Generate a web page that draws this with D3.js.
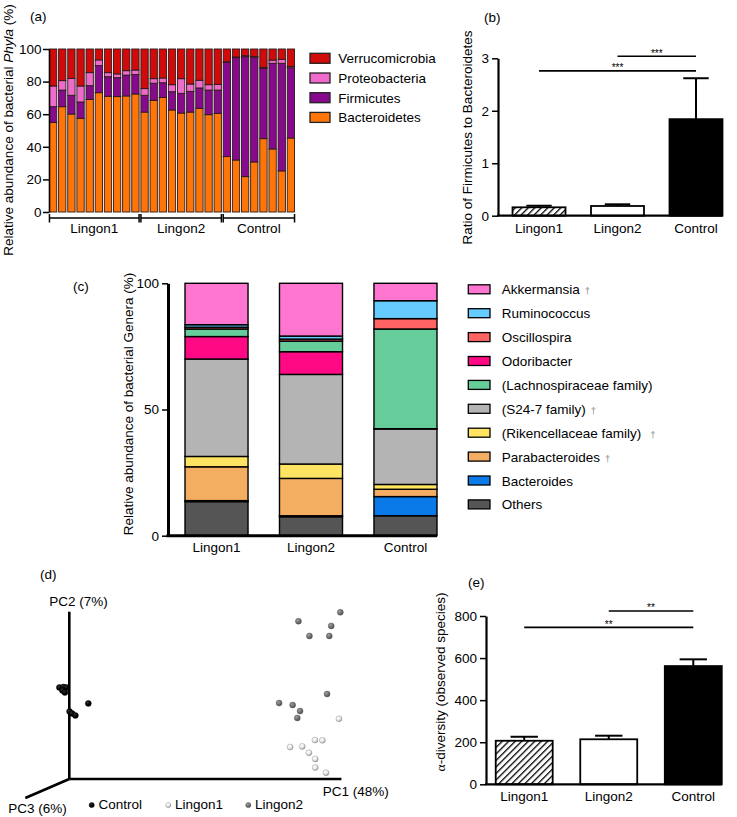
<!DOCTYPE html>
<html><head><meta charset="utf-8">
<script src="https://cdn.jsdelivr.net/npm/d3@7"></script>
<style>
body{margin:0;background:#fff;}
svg{display:block;font-family:"Liberation Sans",Arial,Helvetica,sans-serif;}
</style></head><body>
<svg id="chart" width="737" height="817"></svg>
<script>
// ---------------- DATA ----------------
// (a) phyla per sample
const phylaGroups = ["Lingon1", "Lingon2", "Control"];
const phylaGroupSizes = [10, 9, 8];
const phylaNames = ["Bacteroidetes", "Firmicutes", "Proteobacteria", "Verrucomicrobia"];
const phylaLegend = ["Verrucomicrobia", "Proteobacteria", "Firmicutes", "Bacteroidetes"];
const bacteroidetes = [55, 64.6, 60.1, 57.5, 69.1, 73.2, 71, 70.8, 71.2, 72.4,
  61.3, 68.5, 70.3, 62.6, 60.7, 61.3, 63.6, 59.7, 60.5,
  34, 31.9, 21.7, 30.7, 45, 38.7, 25.2, 45.4];
const firmicutes = [9.6, 10.2, 11.5, 10, 8.4, 16.6, 12, 11.6, 12.8, 11.9,
  10.3, 10.5, 9, 11.2, 12.1, 12.7, 12.5, 15.1, 14.3,
  57.8, 62.8, 73.6, 64.2, 43, 52.5, 66, 43.1];
const proteobacteria = [12.7, 5.8, 10.4, 9.8, 8, 3.5, 2.5, 2.3, 2.7, 2.8,
  4.1, 2.8, 2.9, 4.3, 9, 4.5, 4.7, 3.3, 3.5,
  0.4, 0.4, 0.6, 0.4, 0.7, 2, 2.5, 0.8];
const verrucomicrobia = [22.7, 19.4, 18, 22.7, 14.5, 6.7, 14.5, 15.3, 13.3, 12.9,
  24.3, 18.2, 17.8, 21.9, 18.2, 21.5, 19.2, 21.9, 21.7,
  7.8, 4.9, 4.1, 4.7, 11.3, 6.8, 6.3, 10.7];
const phylaTicks = [0, 20, 40, 60, 80, 100];

// (b) ratio Firmicutes / Bacteroidetes
const groups = ["Lingon1", "Lingon2", "Control"];
const ratioMean = [0.16, 0.185, 1.84];
const ratioErr = [0.03, 0.032, 0.78];
const ratioTicks = [0, 1, 2, 3];
const ratioSig = [{a: "Lingon2", b: "Control", y: 3.04, label: "***"},
                  {a: "Lingon1", b: "Control", y: 2.76, label: "***"}];

// (c) genera (stack order bottom -> top)
const genera = ["Others", "Bacteroides", "Parabacteroides", "(Rikencellaceae family)", "(S24-7 family)",
  "Odoribacter", "(Lachnospiraceae family)", "Oscillospira", "Ruminococcus", "Akkermansia"];
const generaLingon1 = [13.5, 0.4, 13.4, 4.1, 38.6, 8.9, 3.0, 0.7, 1.0, 16.4];
const generaLingon2 = [7.5, 0.4, 14.8, 5.7, 35.5, 9.0, 4.2, 0.8, 1.2, 20.9];
const generaControl = [7.9, 7.6, 2.9, 1.9, 22.0, 0.1, 39.5, 4.1, 7.1, 6.9];
const generaLegend = ["Akkermansia", "Ruminococcus", "Oscillospira", "Odoribacter", "(Lachnospiraceae family)",
  "(S24-7 family)", "(Rikencellaceae family)", "Parabacteroides", "Bacteroides", "Others"];
const generaDagger = ["Akkermansia", "(S24-7 family)", "(Rikencellaceae family)", "Parabacteroides"];
const generaTicks = [0, 50, 100];

// (d) PCoA (projected coordinates, arbitrary units)
const pcControl = [[-3.6, 54.7], [-2.1, 55.0], [-1.0, 54.7], [-2.5, 52.9], [-1.6, 51.7],
  [0.1, 40.3], [1.0, 39.2], [2.2, 38.0], [6.9, 45.2]];
const pcLingon1 = [[97.8, 36.0], [89.1, 23.3], [91.8, 23.1], [80.1, 19.1], [84.5, 19.5],
  [86.9, 15.7], [89.2, 12.0], [89.2, 6.8], [93.1, 3.8]];
const pcLingon2 = [[98.3, 99.6], [83.1, 94.3], [95.0, 91.5], [87.1, 85.5], [94.3, 85.5],
  [93.5, 50.8], [76.1, 45.4], [81.0, 44.2], [83.7, 40.6], [82.7, 36.5]];
const pcAxisLabels = ["PC1 (48%)", "PC2 (7%)", "PC3 (6%)"];

// (e) alpha diversity
const alphaMean = [207, 214, 562];
const alphaErr = [19, 17, 32];
const alphaTicks = [0, 200, 400, 600, 800];
const alphaSig = [{a: "Lingon2", b: "Control", y: 824, label: "**"},
                  {a: "Lingon1", b: "Control", y: 746, label: "**"}];

// ---------------- STYLE ----------------
const FS = 13.5;
const phylaColors = {Verrucomicrobia: "#d10a0a", Proteobacteria: "#f06acb", Firmicutes: "#880a8c", Bacteroidetes: "#ff7508"};
const generaColors = {
  "Akkermansia": "#ff76d1", "Ruminococcus": "#66cbff", "Oscillospira": "#ff6464", "Odoribacter": "#ff0a84",
  "(Lachnospiraceae family)": "#66cc99", "(S24-7 family)": "#b4b4b4", "(Rikencellaceae family)": "#ffe463",
  "Parabacteroides": "#f4ae62", "Bacteroides": "#0a7ae8", "Others": "#555555"};

const svg = d3.select("#chart");
const defs = svg.append("defs");
const hatch = defs.append("pattern").attr("id", "hatch").attr("patternUnits", "userSpaceOnUse")
  .attr("width", 4.6).attr("height", 4.6).attr("patternTransform", "rotate(45)");
hatch.append("rect").attr("width", 4.6).attr("height", 4.6).attr("fill", "#fff");
hatch.append("line").attr("x1", 0).attr("y1", 0).attr("x2", 0).attr("y2", 4.6)
  .attr("stroke", "#000").attr("stroke-width", 2.6);

function sphere(id, c0, c1, c2) {
  const g = defs.append("radialGradient").attr("id", id).attr("cx", "38%").attr("cy", "35%").attr("r", "65%");
  g.append("stop").attr("offset", "0%").attr("stop-color", c0);
  g.append("stop").attr("offset", "60%").attr("stop-color", c1);
  g.append("stop").attr("offset", "100%").attr("stop-color", c2);
}
sphere("sphL1", "#ffffff", "#e6e6e6", "#9a9a9a");
sphere("sphL2", "#a0a0a0", "#6e6e6e", "#4a4a4a");
sphere("sphC", "#333", "#000", "#000");

const intFmt = d3.format("d");
function styleAxis(g, w) {
  g.select(".domain").attr("stroke", "#000").attr("stroke-width", w);
  g.selectAll(".tick line").attr("stroke", "#000").attr("stroke-width", 1.5);
  g.selectAll(".tick text").attr("font-size", FS).attr("font-family", "Liberation Sans, Arial, sans-serif").attr("fill", "#000");
}
function panelLabel(t, x, y) {
  svg.append("text").attr("x", x).attr("y", y).attr("font-size", FS).attr("fill", "#000").text(t);
}

// ---------------- (a) ----------------
panelLabel("(a)", 30, 20.5);
const sampleGroup = [];
phylaGroups.forEach((g, i) => { for (let k = 0; k < phylaGroupSizes[i]; k++) sampleGroup.push(g); });
const phylaRows = bacteroidetes.map((v, i) => ({
  id: i, Bacteroidetes: v, Firmicutes: firmicutes[i], Proteobacteria: proteobacteria[i], Verrucomicrobia: verrucomicrobia[i]}));
const xA = d3.scaleBand().domain(phylaRows.map(d => d.id)).range([49, 295]).paddingInner(0.2).paddingOuter(0.05);
const yA = d3.scaleLinear().domain([0, 100]).range([212, 49]);
const stackA = d3.stack().keys(phylaNames)(phylaRows);
svg.append("g").selectAll("g").data(stackA).join("g").attr("fill", d => phylaColors[d.key])
  .selectAll("rect").data(d => d).join("rect")
  .attr("x", d => xA(d.data.id)).attr("width", xA.bandwidth())
  .attr("y", d => yA(d[1])).attr("height", d => yA(d[0]) - yA(d[1]))
  .attr("stroke", "#2a1a1a").attr("stroke-width", 0.9);
const axA = svg.append("g").attr("transform", "translate(49,0)")
  .call(d3.axisLeft(yA).tickValues(phylaTicks).tickFormat(intFmt).tickSize(6).tickPadding(1.5).tickSizeOuter(0));
styleAxis(axA, 1.6);
// group brackets
phylaGroups.forEach(g => {
  const ids = phylaRows.filter((d, i) => sampleGroup[i] === g).map(d => d.id);
  const x0 = xA(ids[0]), x1 = xA(ids[ids.length - 1]) + xA.bandwidth();
  const br = svg.append("g").attr("stroke", "#000").attr("stroke-width", 1.5);
  br.append("line").attr("x1", x0).attr("x2", x1).attr("y1", 218).attr("y2", 218);
  br.append("line").attr("x1", x0).attr("x2", x0).attr("y1", 214).attr("y2", 222.5);
  br.append("line").attr("x1", x1).attr("x2", x1).attr("y1", 214).attr("y2", 222.5);
  svg.append("text").attr("x", (x0 + x1) / 2).attr("y", 233).attr("text-anchor", "middle").attr("font-size", FS).text(g);
});
{
  const t = svg.append("text").attr("transform", "translate(13,130) rotate(-90)").attr("text-anchor", "middle").attr("font-size", FS);
  t.append("tspan").text("Relative abundance of bacterial ");
  t.append("tspan").attr("font-style", "italic").text("Phyla");
  t.append("tspan").text(" (%)");
}
// legend (a)
const legA = svg.append("g").selectAll("g").data(phylaLegend).join("g")
  .attr("transform", (d, i) => `translate(310,${58.3 + i * 19.7})`);
legA.append("rect").attr("x", 0).attr("y", -5).attr("width", 20).attr("height", 10)
  .attr("fill", d => phylaColors[d]).attr("stroke", "#222").attr("stroke-width", 1.3);
legA.append("text").attr("x", 28.3).attr("y", 5).attr("font-size", FS).text(d => d);

// ---------------- (b) ----------------
panelLabel("(b)", 484, 22);
const xB = d3.scaleBand().domain(groups).range([498, 737]).paddingInner(0.325).paddingOuter(0.185);
const yB = d3.scaleLinear().domain([0, 3]).range([215.7, 58.3]);
const barFill = {Lingon1: "url(#hatch)", Lingon2: "#fff", Control: "#000"};
function errorBars(xS, yS, means, errs) {
  const g = svg.append("g").attr("stroke", "#000").attr("stroke-width", 2);
  groups.forEach((k, i) => {
    const cx = xS(k) + xS.bandwidth() / 2, hw = xS.bandwidth() * 0.24;
    g.append("line").attr("x1", cx).attr("x2", cx).attr("y1", yS(means[i])).attr("y2", yS(means[i] + errs[i]));
    g.append("line").attr("x1", cx - hw).attr("x2", cx + hw).attr("y1", yS(means[i] + errs[i])).attr("y2", yS(means[i] + errs[i]));
  });
}
errorBars(xB, yB, ratioMean, ratioErr);
svg.append("g").selectAll("rect").data(groups).join("rect")
  .attr("x", d => xB(d)).attr("width", xB.bandwidth())
  .attr("y", (d, i) => yB(ratioMean[i])).attr("height", (d, i) => yB(0) - yB(ratioMean[i]))
  .attr("fill", d => barFill[d]).attr("stroke", "#000").attr("stroke-width", 1.8);
const axB = svg.append("g").attr("transform", "translate(498,0)")
  .call(d3.axisLeft(yB).tickValues(ratioTicks).tickFormat(intFmt).tickSize(6).tickPadding(3).tickSizeOuter(0));
styleAxis(axB, 2.2);
svg.append("line").attr("x1", 497).attr("x2", xB("Control") + xB.bandwidth()).attr("y1", yB(0)).attr("y2", yB(0))
  .attr("stroke", "#000").attr("stroke-width", 2.2);
svg.append("g").selectAll("text").data(groups).join("text")
  .attr("x", d => xB(d) + xB.bandwidth() / 2).attr("y", 232.5).attr("text-anchor", "middle").attr("font-size", FS).text(d => d);
function sigLines(xS, yS, sig) {
  sig.forEach(s => {
    const xa = xS(s.a) + xS.bandwidth() / 2, xb = xS(s.b) + xS.bandwidth() / 2, y = yS(s.y);
    svg.append("line").attr("x1", xa).attr("x2", xb).attr("y1", y).attr("y2", y).attr("stroke", "#000").attr("stroke-width", 1.6);
    svg.append("text").attr("x", (xa + xb) / 2).attr("y", y + 0.5).attr("text-anchor", "middle")
      .attr("font-size", 10).attr("fill", "#000").text(s.label);
  });
}
sigLines(xB, yB, ratioSig);
svg.append("text").attr("transform", "translate(472,137.5) rotate(-90)").attr("text-anchor", "middle")
  .attr("font-size", FS).text("Ratio of Firmicutes to Bacteroidetes");

// ---------------- (c) ----------------
panelLabel("(c)", 73, 291);
const genusRows = groups.map((g, gi) => {
  const src = [generaLingon1, generaLingon2, generaControl][gi];
  const r = {group: g};
  genera.forEach((k, i) => r[k] = src[i]);
  return r;
});
const xC = d3.scaleBand().domain(groups).range([168, 454]).paddingInner(0.333).paddingOuter(0.18);
const yC = d3.scaleLinear().domain([0, 100]).range([535.7, 283.3]);
const stackC = d3.stack().keys(genera)(genusRows);
svg.append("g").selectAll("g").data(stackC).join("g").attr("fill", d => generaColors[d.key])
  .selectAll("rect").data(d => d).join("rect")
  .attr("x", d => xC(d.data.group)).attr("width", xC.bandwidth())
  .attr("y", d => yC(d[1])).attr("height", d => yC(d[0]) - yC(d[1]))
  .attr("stroke", "#000").attr("stroke-width", 1.4);
const axC = svg.append("g").attr("transform", "translate(168,0)")
  .call(d3.axisLeft(yC).tickValues(generaTicks).tickFormat(intFmt).tickSize(6).tickPadding(3).tickSizeOuter(0));
styleAxis(axC, 3);
svg.append("line").attr("x1", 166.5).attr("x2", xC("Control") + xC.bandwidth()).attr("y1", yC(0)).attr("y2", yC(0))
  .attr("stroke", "#000").attr("stroke-width", 3);
svg.append("g").selectAll("text").data(groups).join("text")
  .attr("x", d => xC(d) + xC.bandwidth() / 2).attr("y", 552).attr("text-anchor", "middle").attr("font-size", FS).text(d => d);
svg.append("text").attr("transform", "translate(133,404) rotate(-90)").attr("text-anchor", "middle")
  .attr("font-size", FS).text("Relative abundance of bacterial Genera (%)");
const legC = svg.append("g").selectAll("g").data(generaLegend).join("g")
  .attr("transform", (d, i) => `translate(468.3,${289.3 + i * 23.9})`);
legC.append("rect").attr("x", 0).attr("y", -4.5).attr("width", 21.7).attr("height", 9)
  .attr("fill", d => generaColors[d]).attr("stroke", "#000").attr("stroke-width", 1.3);
const legCt = legC.append("text").attr("x", 33.4).attr("y", 5).attr("font-size", FS).attr("fill", "#000");
legCt.append("tspan").text(d => d);
legCt.filter(d => generaDagger.includes(d)).append("tspan")
  .attr("dx", d => d === "(Rikencellaceae family)" ? 9 : 5).attr("font-size", 9.5).attr("fill", "#8a8a8a").text("†");

// ---------------- (d) ----------------
panelLabel("(d)", 40, 579);
const xD = d3.scaleLinear().domain([0, 100]).range([69.3, 345]);
const yD = d3.scaleLinear().domain([0, 100]).range([779, 611.7]);
const axD = svg.append("g").attr("stroke", "#000").attr("stroke-width", 2.6).attr("fill", "none");
axD.append("line").attr("x1", xD(0)).attr("x2", xD(0)).attr("y1", yD(0)).attr("y2", yD(100));
axD.append("line").attr("x1", xD(0)).attr("x2", xD(98.7)).attr("y1", yD(0)).attr("y2", yD(0));
axD.append("line").attr("x1", xD(0)).attr("x2", xD(0) - 44).attr("y1", yD(0)).attr("y2", yD(0) + 19);
svg.append("text").attr("x", 49.3).attr("y", 605.5).attr("font-size", FS).text(pcAxisLabels[1]);
svg.append("text").attr("x", 322.7).attr("y", 796).attr("font-size", FS).text(pcAxisLabels[0]);
svg.append("text").attr("x", 8.3).attr("y", 812.5).attr("font-size", FS).text(pcAxisLabels[2]);
function pts(data, fill, stroke) {
  svg.append("g").selectAll("circle").data(data).join("circle")
    .attr("cx", d => xD(d[0])).attr("cy", d => yD(d[1])).attr("r", 3)
    .attr("fill", fill).attr("stroke", stroke).attr("stroke-width", 0.4);
}
pts(pcLingon2, "url(#sphL2)", "#555");
pts(pcLingon1, "url(#sphL1)", "#8a8a8a");
pts(pcControl, "url(#sphC)", "#000");
const legD = [{t: "Control", f: "url(#sphC)", s: "#000", x: 91.7}, {t: "Lingon1", f: "url(#sphL1)", s: "#8a8a8a", x: 168.3},
  {t: "Lingon2", f: "url(#sphL2)", s: "#555", x: 248.3}];
legD.forEach(l => {
  svg.append("circle").attr("cx", l.x).attr("cy", 805).attr("r", 2.6).attr("fill", l.f).attr("stroke", l.s).attr("stroke-width", 0.4);
  svg.append("text").attr("x", l.x + 6.7).attr("y", 808.8).attr("font-size", FS).text(l.t);
});

// ---------------- (e) ----------------
panelLabel("(e)", 468, 587);
const xE = d3.scaleBand().domain(groups).range([486, 731.5]).paddingInner(0.326).paddingOuter(0.115);
const yE = d3.scaleLinear().domain([0, 800]).range([784.3, 616]);
errorBars(xE, yE, alphaMean, alphaErr);
svg.append("g").selectAll("rect").data(groups).join("rect")
  .attr("x", d => xE(d)).attr("width", xE.bandwidth())
  .attr("y", (d, i) => yE(alphaMean[i])).attr("height", (d, i) => yE(0) - yE(alphaMean[i]))
  .attr("fill", d => barFill[d]).attr("stroke", "#000").attr("stroke-width", 1.8);
const axE = svg.append("g").attr("transform", "translate(486,0)")
  .call(d3.axisLeft(yE).tickValues(alphaTicks).tickFormat(intFmt).tickSize(6).tickPadding(3).tickSizeOuter(0));
styleAxis(axE, 2.2);
svg.append("line").attr("x1", 485).attr("x2", xE("Control") + xE.bandwidth()).attr("y1", yE(0)).attr("y2", yE(0))
  .attr("stroke", "#000").attr("stroke-width", 2.2);
svg.append("g").selectAll("text").data(groups).join("text")
  .attr("x", d => xE(d) + xE.bandwidth() / 2).attr("y", 801).attr("text-anchor", "middle").attr("font-size", FS).text(d => d);
sigLines(xE, yE, alphaSig);
{
  const t = svg.append("text").attr("transform", "translate(445,682) rotate(-90)").attr("text-anchor", "middle").attr("font-size", FS);
  t.append("tspan").attr("font-family", "Liberation Serif, Times New Roman, serif").text("α");
  t.append("tspan").text("-diversity (observed species)");
}
</script></body></html>
